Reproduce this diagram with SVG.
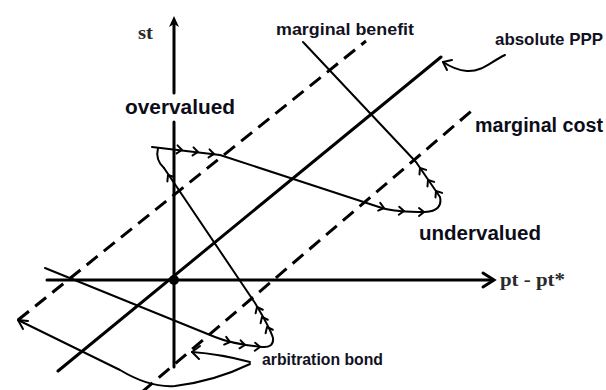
<svg xmlns="http://www.w3.org/2000/svg" width="606" height="390" viewBox="0 0 606 390">
<style>
.ax{stroke:#000;stroke-width:3;fill:none;stroke-linecap:round}
.dash{stroke:#000;stroke-width:3;fill:none;stroke-dasharray:14 8}
.thin{stroke:#000;stroke-width:2;fill:none;stroke-linecap:round;stroke-linejoin:round}
.big{font-family:"Liberation Sans",Arial,sans-serif;font-weight:bold;fill:#0d0d1a}
.small{font-family:"Liberation Sans",Arial,sans-serif;font-weight:bold;font-size:17px;fill:#111122}
.serif{font-family:"Liberation Serif","Times New Roman",serif;font-size:18px;fill:#2a2a2a}
</style>
<defs>
<path id="chev" d="M-5,-4 L0,0 L-5,4" fill="none" stroke="#000" stroke-width="2" stroke-linecap="round" stroke-linejoin="round"/>
</defs>
<rect width="606" height="390" fill="#fff"/>
<g id="axes">
<line class="ax" x1="174" y1="24" x2="174" y2="93"/>
<line class="ax" x1="174" y1="122" x2="174" y2="367"/>
<path d="M174,16 L169,27 L174,24 L179,27 Z" fill="#000"/>
<line class="ax" x1="47" y1="280" x2="493" y2="280"/>
<path class="ax" d="M483,273 L494,280 L483,287" stroke-width="2.5"/>
<circle cx="174" cy="280" r="5" fill="#000"/>
</g>
<g id="connectors">
<line id="absolute-ppp" class="ax" x1="58" y1="371" x2="441" y2="57"/>
<line id="upper-band" class="dash" x1="18" y1="320" x2="366" y2="41"/>
<line id="lower-band" class="dash" x1="142" y1="392" x2="475" y2="108"/>
<path id="path-lower" class="thin" d="M45,268 L215,337 Q232,344 262,347 Q274,348 273,338 Q270,328 255,303 L164,168"/>
<path id="hook" class="thin" d="M164,168 Q155,160 158,148"/>
<path id="path-upper" class="thin" d="M152,147 L220,155 L382,208 Q396,212 425,212 Q443,211 440,197 L416,162 L303,42"/>
<path id="arb-curve" class="thin" d="M18,320 L120,370 Q150,388 175,386 Q215,381 250,364"/>
<path class="thin" d="M18,320 L28,321 M18,320 L23,329"/>
<path id="arb-pointer" class="thin" d="M250,362 Q220,354 192,352"/>
<path class="thin" d="M192,352 L200,346 M192,352 L199,359"/>
<path id="ppp-pointer" class="thin" d="M505,55 C490,62 482,72 467,71 C456,70 449,66 443,62"/>
<path class="thin" d="M443,62 L452,60 M443,62 L447,70"/>
<use href="#chev" transform="translate(182,150) rotate(7)"/>
<use href="#chev" transform="translate(198,152) rotate(7)"/>
<use href="#chev" transform="translate(214,154) rotate(7)"/>
<use href="#chev" transform="translate(168,175) rotate(-123)"/>
<use href="#chev" transform="translate(384,208) rotate(15)"/>
<use href="#chev" transform="translate(404,211) rotate(3)"/>
<use href="#chev" transform="translate(424,212) rotate(0)"/>
<use href="#chev" transform="translate(420,168) rotate(-124)"/>
<use href="#chev" transform="translate(428,180) rotate(-124)"/>
<use href="#chev" transform="translate(436,191) rotate(-124)"/>
<use href="#chev" transform="translate(230,342) rotate(15)"/>
<use href="#chev" transform="translate(245,345) rotate(8)"/>
<use href="#chev" transform="translate(260,347) rotate(3)"/>
<use href="#chev" transform="translate(257,307) rotate(-116)"/>
<use href="#chev" transform="translate(262,317) rotate(-116)"/>
<use href="#chev" transform="translate(267,327) rotate(-116)"/>
</g>
<g id="label-st"><text class="serif" x="138" y="39" font-weight="bold" textLength="15" lengthAdjust="spacingAndGlyphs">st</text></g>
<g id="label-pt"><text class="serif" x="500" y="286" font-weight="bold" textLength="65" lengthAdjust="spacingAndGlyphs">pt - pt*</text></g>
<g id="label-overvalued"><text class="big" x="125" y="114" font-size="21" textLength="110" lengthAdjust="spacingAndGlyphs">overvalued</text></g>
<g id="label-undervalued"><text class="big" x="419" y="240" font-size="20.5" textLength="122" lengthAdjust="spacingAndGlyphs">undervalued</text></g>
<g id="label-marginal-cost"><text class="big" x="475" y="132" font-size="20" textLength="128" lengthAdjust="spacingAndGlyphs">marginal cost</text></g>
<g id="label-marginal-benefit"><text class="small" x="276" y="35" textLength="138" lengthAdjust="spacingAndGlyphs">marginal benefit</text></g>
<g id="label-absolute-ppp"><text class="small" x="495" y="45" textLength="108" lengthAdjust="spacingAndGlyphs">absolute PPP</text></g>
<g id="label-arbitration-bond"><text class="small" x="262" y="365" textLength="121" lengthAdjust="spacingAndGlyphs">arbitration bond</text></g>
</svg>
